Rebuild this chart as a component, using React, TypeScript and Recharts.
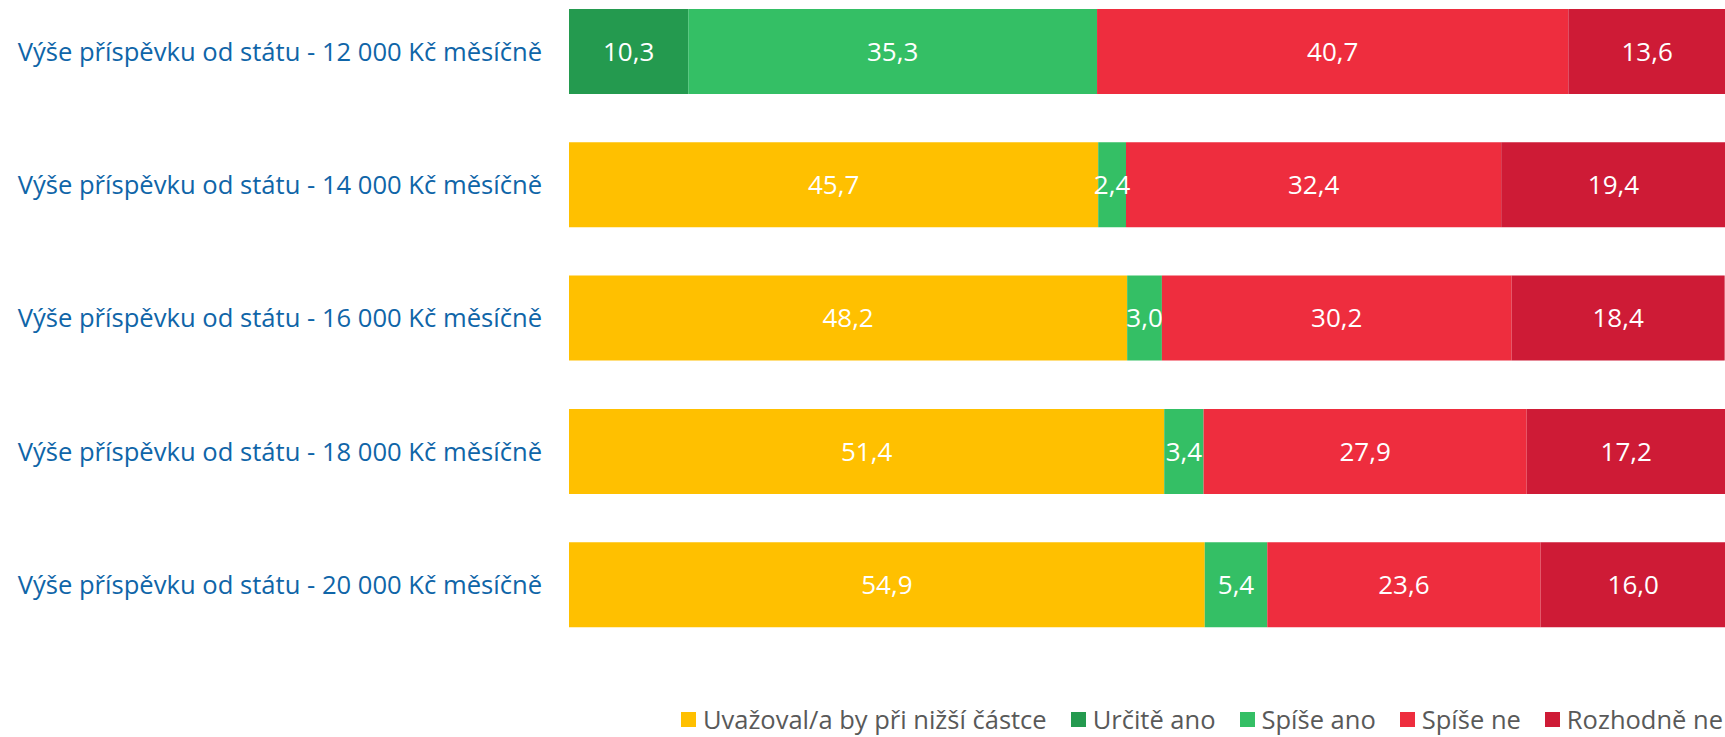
import React from 'react';
import { BarChart, Bar, XAxis, YAxis, Legend, LabelList } from 'recharts';

const categories = [
  'Výše příspěvku od státu - 12 000 Kč měsíčně',
  'Výše příspěvku od státu - 14 000 Kč měsíčně',
  'Výše příspěvku od státu - 16 000 Kč měsíčně',
  'Výše příspěvku od státu - 18 000 Kč měsíčně',
  'Výše příspěvku od státu - 20 000 Kč měsíčně',
];
const uvazoval = [0, 45.7, 48.2, 51.4, 54.9];
const urciteAno = [10.3, 0, 0, 0, 0];
const spiseAno = [35.3, 2.4, 3.0, 3.4, 5.4];
const spiseNe = [40.7, 32.4, 30.2, 27.9, 23.6];
const rozhodneNe = [13.6, 19.4, 18.4, 17.2, 16.0];

const seriesDefs = [
  { key: 'uvazoval', name: 'Uvažoval/a by při nižší částce', color: '#FFC000', values: uvazoval },
  { key: 'urciteAno', name: 'Určitě ano', color: '#249A4F', values: urciteAno },
  { key: 'spiseAno', name: 'Spíše ano', color: '#34BF65', values: spiseAno },
  { key: 'spiseNe', name: 'Spíše ne', color: '#EE2D3E', values: spiseNe },
  { key: 'rozhodneNe', name: 'Rozhodně ne', color: '#CE1B36', values: rozhodneNe },
];

const data = categories.map((c, i) => {
  const row: any = { name: c };
  seriesDefs.forEach((s) => {
    row[s.key] = s.values[i];
  });
  return row;
});

const FONT = '"Open Sans", sans-serif';

const fmt = (v: any) => (v ? Number(v).toFixed(1).replace('.', ',') : '');

const LegendContent = () => (
  <div
    style={{
      display: 'flex',
      justifyContent: 'flex-end',
      alignItems: 'center',
      height: 36,
      fontFamily: FONT,
      fontSize: 25.5,
      color: '#595959',
      whiteSpace: 'nowrap',
    }}
  >
    {seriesDefs.map((s, i) => (
      <div key={s.key} style={{ display: 'flex', alignItems: 'center', marginLeft: i === 0 ? 0 : 24 }}>
        <span style={{ display: 'inline-block', width: 15, height: 15, background: s.color, marginRight: 7 }} />
        <span>{s.name}</span>
      </div>
    ))}
  </div>
);

export default function App() {
  return (
    <div style={{ position: 'fixed', left: 0, top: 0, width: 1725, height: 737, overflow: 'hidden', background: '#fff' }}>
      <div style={{ position: 'absolute', left: 0, top: -15 }}>
        <BarChart
          width={1727}
          height={770}
          data={data}
          layout="vertical"
          margin={{ top: 0, right: 0, bottom: 67.5, left: 0 }}
        >
          <XAxis type="number" domain={[0, 100]} hide />
          <YAxis
            type="category"
            dataKey="name"
            width={569}
            axisLine={false}
            tickLine={false}
            tickSize={0}
            tickMargin={27}
            interval={0}
            tick={{ fill: '#0F65A8', fontSize: 25.6, fontFamily: FONT }}
          />
          <Legend
            verticalAlign="bottom"
            align="right"
            content={<LegendContent />}
            wrapperStyle={{ bottom: 18, right: 4, left: 'auto', width: 'auto' }}
          />
          {seriesDefs.map((s) => (
            <Bar key={s.key} dataKey={s.key} name={s.name} stackId="a" fill={s.color} barSize={85} isAnimationActive={false}>
              <LabelList
                dataKey={s.key}
                position="center"
                formatter={fmt}
                fill="#FFFFFF"
                style={{ fontSize: 26, fontFamily: FONT }}
              />
            </Bar>
          ))}
        </BarChart>
      </div>
    </div>
  );
}
